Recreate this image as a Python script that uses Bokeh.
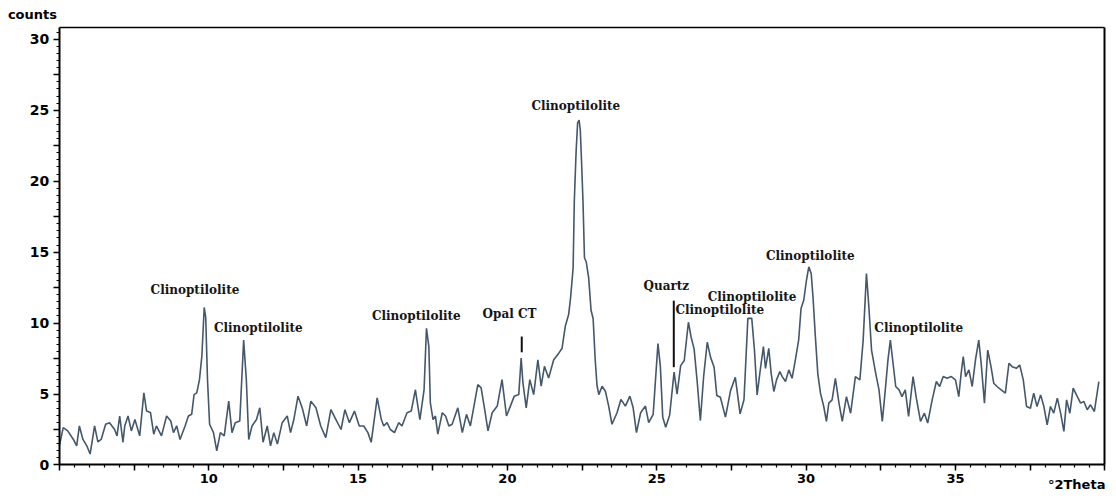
from bokeh.plotting import figure
from bokeh.models import FixedTicker, Range1d, LinearAxis, CustomJSTickFormatter
from bokeh.embed import file_html
from bokeh.resources import INLINE
from bokeh.core.properties import value

# ---- XRD pattern ----
two_theta = [
    5.00, 5.13, 5.28, 5.47, 5.58, 5.67, 5.79, 5.92, 6.03, 6.18, 6.29, 6.40, 6.55, 6.68, 6.85, 6.93,
    7.02, 7.13, 7.19, 7.30, 7.41, 7.53, 7.69, 7.83, 7.92, 8.05, 8.16, 8.25, 8.42, 8.59, 8.73, 8.82,
    8.93, 9.04, 9.21, 9.32, 9.43, 9.51, 9.60, 9.69, 9.77, 9.85, 9.90, 9.96, 10.03, 10.16, 10.27,
    10.39, 10.52, 10.67, 10.78, 10.89, 11.04, 11.17, 11.26, 11.34, 11.45, 11.60, 11.71, 11.82,
    11.96, 12.07, 12.18, 12.30, 12.46, 12.63, 12.74, 12.85, 12.99, 13.13, 13.28, 13.42, 13.59,
    13.75, 13.92, 14.09, 14.26, 14.43, 14.56, 14.71, 14.88, 15.04, 15.19, 15.33, 15.44, 15.64,
    15.78, 15.86, 15.97, 16.08, 16.22, 16.36, 16.47, 16.64, 16.78, 16.92, 17.07, 17.21, 17.29,
    17.37, 17.42, 17.51, 17.59, 17.67, 17.82, 17.93, 18.04, 18.15, 18.34, 18.49, 18.63, 18.76,
    18.90, 19.01, 19.12, 19.24, 19.35, 19.49, 19.66, 19.82, 19.97, 20.10, 20.23, 20.38, 20.46,
    20.52, 20.63, 20.75, 20.88, 21.02, 21.13, 21.24, 21.38, 21.55, 21.72, 21.83, 21.94, 22.05,
    22.12, 22.20, 22.24, 22.30, 22.35, 22.40, 22.44, 22.48, 22.53, 22.58, 22.64, 22.72, 22.80,
    22.87, 22.94, 23.00, 23.06, 23.17, 23.28, 23.39, 23.50, 23.67, 23.80, 23.95, 24.10, 24.21,
    24.32, 24.46, 24.62, 24.73, 24.88, 25.04, 25.12, 25.20, 25.30, 25.43, 25.58, 25.68, 25.80,
    25.92, 26.06, 26.15, 26.25, 26.35, 26.46, 26.57, 26.69, 26.80, 26.92, 27.01, 27.13, 27.30,
    27.47, 27.63, 27.79, 27.92, 28.05, 28.18, 28.27, 28.36, 28.45, 28.57, 28.64, 28.75, 28.83,
    28.92, 29.01, 29.12, 29.20, 29.31, 29.42, 29.53, 29.64, 29.75, 29.83, 29.92, 30.01, 30.09,
    30.17, 30.23, 30.31, 30.39, 30.48, 30.59, 30.68, 30.76, 30.87, 30.98, 31.10, 31.21, 31.35,
    31.49, 31.65, 31.80, 31.91, 32.02, 32.10, 32.19, 32.33, 32.44, 32.55, 32.62, 32.74, 32.82,
    32.91, 33.00, 33.11, 33.21, 33.32, 33.43, 33.58, 33.69, 33.83, 33.96, 34.07, 34.22, 34.36,
    34.47, 34.59, 34.72, 34.86, 35.00, 35.11, 35.19, 35.26, 35.34, 35.45, 35.56, 35.67, 35.78,
    35.86, 35.97, 36.08, 36.19, 36.28, 36.39, 36.53, 36.67, 36.79, 36.90, 37.04, 37.15, 37.27,
    37.38, 37.51, 37.62, 37.73, 37.85, 37.96, 38.07, 38.18, 38.29, 38.41, 38.52, 38.63, 38.72,
    38.83, 38.94, 39.08, 39.19, 39.30, 39.41, 39.52, 39.65, 39.80,
]
counts = [
    1.35, 2.63, 2.40, 1.80, 1.35, 2.75, 1.80, 1.35, 0.77, 2.75, 1.63, 1.80, 2.87, 2.98, 2.50, 2.05,
    3.45, 1.60, 2.75, 3.45, 2.40, 3.20, 2.05, 5.08, 3.80, 3.70, 2.17, 2.75, 2.05, 3.45, 3.10, 2.28,
    2.75, 1.80, 2.75, 3.45, 3.57, 4.96, 5.08, 6.00, 7.65, 11.10, 10.40, 6.00, 2.87, 2.28, 1.00,
    2.28, 2.05, 4.50, 2.28, 2.98, 3.10, 8.80, 6.00, 1.80, 2.75, 3.20, 4.03, 1.60,
    2.75, 1.35, 2.28, 1.47, 2.98, 3.45, 2.28, 3.20, 4.85, 4.03, 2.75, 4.50, 4.03,
    2.75, 1.93, 3.90, 3.20, 2.50, 3.90, 2.98, 3.80, 2.75, 2.75, 2.28, 1.60, 4.73,
    3.20, 2.75, 2.98, 2.50, 2.28, 2.98, 2.75, 3.68, 3.80, 5.30, 3.20, 5.30, 9.63,
    8.35, 4.38, 3.20, 3.45, 2.17, 3.68, 3.45, 2.75, 2.87, 4.03, 2.28, 3.57, 2.75,
    4.38, 5.66, 5.43, 3.90, 2.40, 3.68, 4.15, 6.01, 3.45, 4.15, 4.85, 4.96, 7.53,
    5.78, 4.03, 6.01, 4.96, 7.41, 5.55, 6.95, 6.13, 7.41, 7.88, 8.23, 9.80, 10.60,
    11.90, 13.90, 18.60, 22.10, 24.10, 24.30, 23.60, 21.50, 18.60, 14.60, 14.30, 13.20, 10.90,
    10.30, 7.40, 5.60, 4.96, 5.55, 5.20, 4.15, 2.87, 3.68, 4.62, 4.15, 4.85, 4.03,
    2.28, 3.68, 4.15, 2.98, 3.57, 8.55, 6.95, 3.37, 2.66, 3.50, 6.54, 5.00, 7.00,
    7.36, 10.06, 9.00, 8.18, 5.95, 3.13, 6.25, 8.65, 7.60, 6.89, 4.90, 4.77, 3.37,
    5.24, 6.18, 3.60, 4.60, 10.33, 10.33, 8.10, 4.94, 6.46, 8.34, 6.81, 8.22, 6.46,
    5.18, 6.00, 6.58, 6.23, 5.88, 6.70, 6.11, 7.40, 8.80, 11.03, 11.60, 13.00, 13.96,
    13.49, 11.85, 9.04, 6.46, 5.06, 4.12, 3.07, 4.36, 4.59, 6.11, 4.36, 3.07, 4.82,
    3.65, 6.23, 6.00, 8.80, 13.49, 11.15, 8.10, 6.46, 5.29, 3.07, 4.59, 7.40, 8.80,
    7.17, 5.53, 5.29, 4.82, 5.29, 3.42, 6.23, 4.71, 3.07, 3.65, 2.95, 4.59, 5.88,
    5.53, 6.23, 6.11, 6.23, 6.00, 4.82, 6.46, 7.63, 6.23, 6.70, 5.53, 7.40, 8.80,
    7.17, 4.36, 8.10, 6.93, 5.76, 5.53, 5.29, 5.06, 7.17, 6.93, 6.81, 7.05, 6.00,
    4.12, 4.00, 5.06, 4.12, 4.94, 4.12, 2.83, 4.12, 3.65, 4.71, 3.65, 2.37, 4.59,
    3.65, 5.41, 4.82, 4.36, 4.47, 3.89, 4.24, 3.77, 5.88,
]

# ---- phase annotations ----
peak_labels = ["Clinoptilolite", "Clinoptilolite", "Clinoptilolite", "Opal CT", "Clinoptilolite",
               "Quartz", "Clinoptilolite", "Clinoptilolite", "Clinoptilolite", "Clinoptilolite"]
label_x = [9.54, 11.66, 16.95, 20.07, 22.29, 25.32, 27.11, 28.19, 30.14, 33.77]
label_y = [12.36, 9.66, 10.53, 10.65, 25.30, 12.64, 10.95, 11.87, 14.75, 9.66]

marker_x = [20.48, 25.57]
marker_y0 = [7.94, 6.89]
marker_y1 = [9.05, 11.58]

# axis extents and titles
x_start, x_end = 5, 40
y_start, y_end = 0, 30.83
axis_titles = ["counts", "°2Theta"]
axis_title_x = [4.10, 40.02]
axis_title_y = [31.75, -1.40]
axis_title_align = ["center", "right"]

x_major = [5 + 2.5 * i for i in range(15)]
x_minor = [5 + 0.5 * i for i in range(71)]
y_major = [2.5 * i for i in range(13)]
y_minor = [0.5 * i for i in range(62)]

p = figure(width=1110, height=494, x_range=Range1d(3.03, 40.19), y_range=Range1d(-2.08, 32.73),
           output_backend="svg", toolbar_location=None,
           min_border_left=0, min_border_right=0, min_border_top=0, min_border_bottom=0,
           background_fill_color="white", border_fill_color="white")

p.xgrid.visible = False
p.ygrid.visible = False
p.outline_line_color = None

p.line(two_theta, counts, line_color="#44576b", line_width=1.6)

p.segment(x0=marker_x, y0=marker_y0, x1=marker_x, y1=marker_y1,
          line_color="#111111", line_width=2)

p.text(x=label_x, y=label_y, text=peak_labels, text_font=value("DejaVu Serif"),
       text_font_style="bold", text_font_size="12px", text_align="center",
       text_baseline="middle", text_color="#151515")

p.text(x=axis_title_x, y=axis_title_y, text=axis_titles, text_font=value("DejaVu Sans"),
       text_font_style="bold", text_font_size="13px", text_align=axis_title_align,
       text_baseline="middle", text_color="black")

# main axes, pinned inside the (enlarged) frame
xa = p.xaxis[0]
ya = p.yaxis[0]
xa.fixed_location = y_start
xa.bounds = (x_start, x_end)
ya.fixed_location = x_start
ya.bounds = (y_start, y_end)

for ax in (xa, ya):
    ax.axis_line_color = "black"
    ax.axis_line_width = 2
    ax.major_tick_line_color = "black"
    ax.major_tick_line_width = 1.5
    ax.minor_tick_line_color = "black"
    ax.minor_tick_line_width = 1.2
    ax.major_tick_in = 0
    ax.minor_tick_in = 0
    ax.major_tick_out = 6
    ax.minor_tick_out = 3
    ax.major_label_text_font = "DejaVu Sans"
    ax.major_label_text_font_style = "bold"
    ax.major_label_text_color = "black"

xa.ticker = FixedTicker(ticks=x_major, minor_ticks=x_minor)
ya.ticker = FixedTicker(ticks=y_major, minor_ticks=y_minor)
xa.formatter = CustomJSTickFormatter(
    code="return (Math.abs(tick % 5) < 1e-6 && tick > 5.01 && tick < 39.99) ? tick.toFixed(0) : '';")
ya.formatter = CustomJSTickFormatter(
    code="return (Math.abs(tick % 5) < 1e-6) ? tick.toFixed(0) : '';")
xa.major_label_text_font_size = "13px"
ya.major_label_text_font_size = "14px"
xa.major_label_standoff = 3
ya.major_label_standoff = 4

# top and right frame lines
top = LinearAxis(fixed_location=y_end, bounds=(x_start, x_end), ticker=FixedTicker(ticks=[]),
                 axis_line_color="black", axis_line_width=1.5,
                 major_tick_out=0, major_tick_in=0, minor_tick_out=0, minor_tick_in=0,
                 major_label_text_font_size="0px")
right = LinearAxis(fixed_location=x_end, bounds=(y_start, y_end), ticker=FixedTicker(ticks=[]),
                   axis_line_color="black", axis_line_width=2,
                   major_tick_out=0, major_tick_in=0, minor_tick_out=0, minor_tick_in=0,
                   major_label_text_font_size="0px")
p.add_layout(top, "above")
p.add_layout(right, "right")

open("out.html", "w").write(file_html(p, INLINE))
